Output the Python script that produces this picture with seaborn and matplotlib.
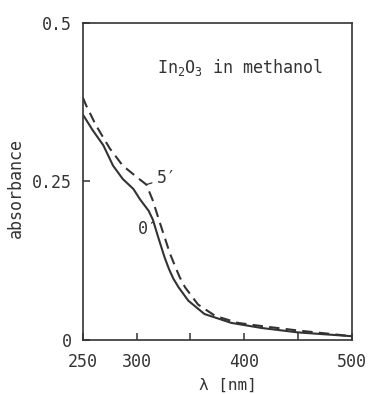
import numpy as np
import pandas as pd
import matplotlib
matplotlib.use("Agg")
import matplotlib.pyplot as plt
import seaborn as sns

# ---- data ----
wavelength_0 = [250, 252, 259, 269, 278, 287, 297, 303, 311, 315, 320, 326, 330, 334, 339, 348, 363, 388, 416, 450, 500]
absorb_0 = [0.355, 0.350, 0.331, 0.307, 0.275, 0.254, 0.238, 0.222, 0.204, 0.190, 0.162, 0.130, 0.112, 0.097, 0.083, 0.062, 0.041, 0.027, 0.019, 0.012, 0.006]

wavelength_5 = [250, 253, 262, 275, 287, 300, 309, 315, 320, 325, 331, 336, 340, 345, 357, 373, 394, 416, 450, 500]
absorb_5 = [0.382, 0.370, 0.339, 0.302, 0.275, 0.257, 0.245, 0.220, 0.193, 0.167, 0.136, 0.115, 0.099, 0.083, 0.056, 0.038, 0.027, 0.022, 0.015, 0.006]

x_ticks = [250, 300, 350, 400, 450, 500]
x_ticklabels = ["250", "300", "", "400", "", "500"]
y_ticks = [0, 0.25, 0.5]
y_ticklabels = ["0", "0.25", "0.5"]

df = pd.concat([
    pd.DataFrame({"wl": wavelength_0, "A": absorb_0, "t": "0"}),
    pd.DataFrame({"wl": wavelength_5, "A": absorb_5, "t": "5"}),
])

sns.set_style("ticks")
plt.rcParams["font.family"] = ["DejaVu Sans Mono", "DejaVu Sans"]
plt.rcParams["mathtext.fontset"] = "custom"
plt.rcParams["mathtext.rm"] = "DejaVu Sans Mono"
plt.rcParams["mathtext.default"] = "rm"
ink = "#333333"

fig = plt.figure(figsize=(3.7, 3.94), dpi=100)
ax = fig.add_axes([0.224, 0.137, 0.727, 0.805])

sns.lineplot(data=df[df.t == "0"], x="wl", y="A", ax=ax, color=ink, lw=1.5,
             sort=False, estimator=None)
sns.lineplot(data=df[df.t == "5"], x="wl", y="A", ax=ax, color=ink, lw=1.5,
             sort=False, estimator=None, linestyle=(0, (5, 3)))

ax.set_xlim(250, 500)
ax.set_ylim(0, 0.5)
ax.set_xticks(x_ticks)
ax.set_xticklabels(x_ticklabels)
ax.set_yticks(y_ticks)
ax.set_yticklabels(y_ticklabels)
ax.tick_params(direction="in", length=5, width=1.1, color=ink, labelcolor=ink,
               labelsize=12)
ax.tick_params(axis="x", pad=9)
ax.tick_params(axis="y", pad=8)
for s in ax.spines.values():
    s.set_visible(True)
    s.set_color(ink)
    s.set_linewidth(1.2)

ax.set_xlabel("λ [nm]", fontsize=11.5, color=ink)
ax.set_ylabel("absorbance", fontsize=12, color=ink)
ax.xaxis.label.set_va("center")
ax.xaxis.set_label_coords(0.54, -0.142)
ax.yaxis.set_label_coords(-0.215, 0.48)

ax.text(319, 0.429, r"In$_2$O$_3$ in methanol", fontsize=12, color=ink,
        ha="left", va="center")

ax.annotate("5′", xy=(309, 0.245), xytext=(318.5, 0.255), fontsize=12,
            color=ink, ha="left", va="center",
            arrowprops=dict(arrowstyle="-", color=ink, lw=0.9,
                            shrinkA=1, shrinkB=0))
ax.annotate("0", xy=(315, 0.186), xytext=(306, 0.175), fontsize=12,
            color=ink, ha="center", va="center",
            arrowprops=dict(arrowstyle="-", color=ink, lw=0.9,
                            shrinkA=3, shrinkB=0))

fig.savefig("out.png", dpi=100, facecolor="white")
